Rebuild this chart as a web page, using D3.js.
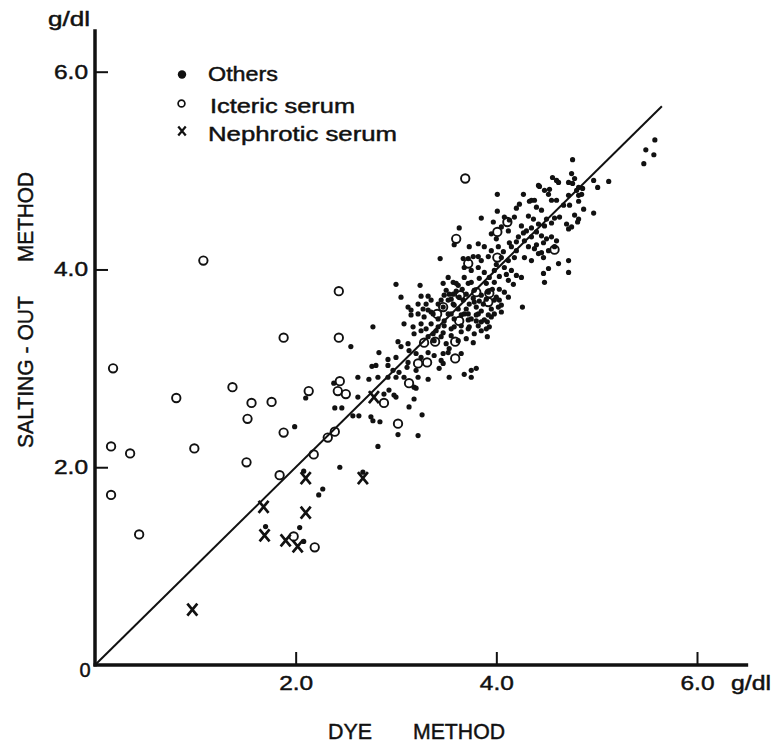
<!DOCTYPE html>
<meta charset="utf-8">
<style>
body { margin: 0; background: #fff; }
text { font-family: "Liberation Sans", Arial, sans-serif; fill: #111; stroke: #111; stroke-width: 0.45px; }
</style>
<body>
<script src="https://d3js.org/d3.v7.min.js"></script>
<script>

// values (g/dl, dye method vs salting-out method)
var xTicks = [2, 4, 6];
var yTicks = [2, 4, 6];
var legendLabels = ["Others", "Icteric serum", "Nephrotic serum"];

var nephrotic = [
  [0.97,0.56],[1.68,1.60],[1.69,1.31],[2.10,1.89],[2.10,1.54],[1.90,1.26],[2.02,1.20],[2.67,1.89],[2.78,2.71]
];

var icteric = [
  [1.08,4.09],[2.43,3.78],[1.88,3.31],[2.43,3.31],[0.18,3.00],[1.37,2.81],[2.44,2.87],[2.42,2.77],[2.50,2.74],
  [2.13,2.77],[0.81,2.70],[1.56,2.65],[1.76,2.66],[1.52,2.49],[1.88,2.35],[2.39,2.36],[2.32,2.30],[0.16,2.21],
  [0.35,2.14],[0.99,2.19],[1.51,2.05],[2.18,2.13],[1.84,1.92],[0.16,1.72],[0.44,1.32],[1.98,1.30],[2.19,1.19],
  [2.88,2.65],[3.02,2.44],[3.13,2.85],[3.22,3.05],[3.31,3.06],[3.28,3.26],[3.39,3.27],[3.59,3.10],[3.59,3.27],
  [3.63,3.48],[3.47,3.62],[3.41,3.55],[3.64,3.74],[3.80,3.77],[3.93,3.76],[3.92,3.67],[3.69,4.92],[3.60,4.31],
  [3.72,4.06],[4.01,4.38],[4.11,4.48],[4.01,4.12],[4.58,4.20]
];

var others = [
  [5.58,5.31],[5.49,5.21],[5.57,5.16],[5.47,5.07],
  [5.12,4.89],[5.01,4.83],[4.97,4.90],[4.97,4.57],[4.76,5.11],
  [4.56,4.93],[4.60,4.90],[4.75,4.97],[4.78,4.92],[4.72,4.88],[4.76,4.87],[4.86,4.82],[4.82,4.83],[4.85,4.76],[4.62,4.88],[4.42,4.85],[4.53,4.81],
  [4.43,4.84],[4.48,4.80],[4.52,4.76],[4.27,4.76],[4.01,4.76],[4.35,4.70],[4.38,4.70],[4.55,4.70],[4.60,4.70],[4.72,4.75],[4.80,4.80],[4.82,4.75],
  [4.23,4.66],[4.33,4.69],[4.20,4.62],[4.40,4.63],[4.45,4.60],[4.67,4.65],[4.73,4.65],[4.87,4.61],[4.82,4.69],[4.01,4.59],[3.85,4.52],
  [4.32,4.54],[4.37,4.51],[4.50,4.51],[4.58,4.52],[4.63,4.53],[4.78,4.55],[4.82,4.51],
  [4.08,4.53],[4.13,4.50],[4.18,4.53],[4.05,4.43],[4.12,4.39],[4.25,4.44],[4.30,4.39],[4.42,4.46],[4.48,4.44],[4.55,4.47],[4.70,4.46],[4.75,4.43],[4.81,4.48],[4.72,4.41],
  [4.22,4.33],[4.28,4.29],[4.35,4.33],[4.45,4.34],[4.50,4.31],[4.55,4.33],[4.60,4.29],
  [4.15,4.23],[4.20,4.19],[4.32,4.23],[4.38,4.21],[4.45,4.17],[4.52,4.19],[4.58,4.23],
  [4.05,4.12],[4.12,4.09],[4.18,4.12],[4.28,4.12],[4.35,4.09],[4.42,4.16],[4.47,4.12],
  [4.62,4.06],[4.72,4.09],[4.47,3.96],[4.52,4.01],[4.72,3.97],[4.08,4.02],[4.15,3.99],[4.20,3.94],[4.25,3.92],[4.48,3.87],[4.12,3.89],[4.17,3.85],[4.12,3.72],
  [4.26,3.62],[4.03,3.69],[3.92,3.54],[3.82,3.55],[3.80,3.48],[3.85,3.47],[3.91,3.47],[3.93,3.42],[3.91,3.32],[3.77,3.26],[3.80,3.00],[3.75,2.98],[3.75,2.91],[3.68,2.94],
  [3.63,4.42],[3.58,4.25],[3.82,4.26],[3.73,4.23],[3.44,4.11],[3.67,4.11],[3.72,4.11],[3.82,4.13],
  [3.97,4.48],[3.95,4.36],[4.00,4.31],[3.88,4.23],[3.95,4.19],[4.02,4.23],[3.77,4.13],[3.85,4.09],[3.92,4.13],
  [3.68,4.02],[3.75,3.99],[3.82,4.02],[3.88,3.97],[3.98,3.99],[3.68,3.92],[3.75,3.87],[3.83,3.91],[3.90,3.86],[3.98,3.87],
  [3.52,3.92],[3.57,3.87],[3.62,3.84],[3.50,3.79],[3.57,3.75],[3.63,3.72],[3.70,3.75],[3.78,3.79],[3.85,3.74],[3.92,3.77],[4.00,3.72],
  [3.35,3.69],[3.42,3.65],[3.47,3.62],[3.73,3.65],[3.80,3.62],[3.87,3.65],[3.95,3.60],[4.02,3.62],
  [3.15,3.59],[3.22,3.55],[3.28,3.52],[3.52,3.55],[3.58,3.50],[3.65,3.54],[3.72,3.49],[3.80,3.54],[3.88,3.49],[3.95,3.52],
  [3.08,3.45],[3.17,3.42],[3.25,3.45],[3.35,3.45],[3.42,3.42],[3.48,3.43],[3.55,3.40],[3.65,3.43],[3.73,3.42],[3.82,3.43],
  [3.00,3.85],[3.05,3.72],[3.24,3.84],[3.25,3.73],[3.32,3.73],[3.47,3.86],[3.60,3.86],[3.72,3.86],[3.30,3.65],[3.35,3.57],[3.57,3.65],
  [3.48,3.74],[3.53,3.75],[3.15,3.54],[3.32,3.59],[3.37,3.55],[3.42,3.50],[3.55,3.55],[3.72,3.55],
  [3.12,3.62],[3.22,3.65],[3.27,3.60],[3.45,3.69],[3.52,3.69],[3.58,3.64],[3.67,3.69],[3.78,3.67],[3.98,3.69],[4.05,3.64],
  [3.68,3.55],[3.75,3.50],[3.98,3.55],[4.05,3.57],[3.58,3.42],[3.65,3.37],[3.72,3.40],[3.78,3.35],[3.85,3.38],
  [3.60,3.78],[3.66,3.80],[3.55,3.70],[3.62,3.60],[3.70,3.60],[3.77,3.71],[3.83,3.68],[3.90,3.70],[3.96,3.80],[4.03,3.80],
  [4.08,3.77],[4.10,3.95],[4.03,3.93],[3.93,3.92],[4.00,4.05],[4.07,4.18],[4.13,4.27],[4.20,4.28],[4.27,4.37],[4.35,4.42],
  [4.40,4.38],[4.47,4.27],[4.40,4.25],[3.70,3.30],[3.62,3.28],[3.55,3.33],[3.48,3.48],[3.40,3.38],[3.30,3.40],[3.85,3.58],
  [3.90,3.40],[3.47,3.15],
  [2.77,3.42],[3.02,3.27],[3.12,3.25],[3.18,3.35],[3.37,3.35],[3.47,3.36],[3.25,3.38],[3.32,3.32],[3.38,3.28],[3.45,3.32],[3.50,3.25],[3.53,3.20],
  [2.55,3.22],[3.05,3.22],[3.13,3.18],[2.83,3.16],[3.00,3.11],[2.92,3.09],[3.52,3.16],[3.65,3.15],[3.32,3.16],[3.25,3.11],[3.20,3.15],[3.38,3.13],[3.45,3.08],
  [2.76,3.02],[3.12,3.06],[3.11,3.01],[3.20,2.98],[3.47,3.05],[2.92,3.03],[2.97,2.98],[2.80,3.03],[3.03,2.96],[3.08,2.91],[3.22,2.91],[3.43,3.00],[3.53,2.91],
  [2.62,2.91],[2.73,2.89],[2.82,2.91],[2.92,2.91],[3.00,2.91],[3.32,2.89],
  [2.93,2.78],[2.88,2.74],[2.98,2.73],[3.18,2.81],[3.20,2.80],[2.38,2.85],[2.10,2.70],
  [2.39,2.60],[2.46,2.60],[2.62,2.71],[3.00,2.71],[3.13,2.61],[3.18,2.69],
  [2.57,2.52],[2.63,2.52],[2.75,2.51],[2.77,2.47],[2.84,2.46],[3.26,2.53],
  [1.99,2.41],[3.02,2.33],[3.22,2.32],[2.82,2.21],[2.44,2.00],[2.08,1.96],[2.67,1.95],
  [2.27,1.78],[2.23,1.72],[1.70,1.40],[2.04,1.39],[2.08,1.25]
];

var lineEnd = 5.65;   // identity line drawn from 0 to here

var width = 775, height = 745;

var x = d3.scaleLinear().domain([0, 6]).range([95, 697]);
var y = d3.scaleLinear().domain([0, 6]).range([665, 71.7]);

var svg = d3.select("body").append("svg")
    .attr("width", width)
    .attr("height", height);

var ink = "#111";
var xMark = "M-5,-6L5,6M5,-6L-5,6";

// axis lines
svg.append("line")
    .attr("x1", x(0) - 1.5).attr("x2", x(6.51))
    .attr("y1", y(0)).attr("y2", y(0))
    .attr("stroke", ink).attr("stroke-width", 3.5);
svg.append("line")
    .attr("x1", x(0)).attr("x2", x(0))
    .attr("y1", y(0) + 1.5).attr("y2", y(6.43))
    .attr("stroke", ink).attr("stroke-width", 3.5);

// ticks point inward
var gx = svg.append("g")
    .attr("transform", "translate(0," + y(0) + ")")
    .call(d3.axisBottom(x).tickValues(xTicks).tickSize(-13).tickPadding(11).tickFormat(d3.format(".1f")));
var gy = svg.append("g")
    .attr("transform", "translate(" + x(0) + ",0)")
    .call(d3.axisLeft(y).tickValues(yTicks).tickSize(-13).tickPadding(7).tickFormat(d3.format(".1f")));

[gx, gy].forEach(function(g) {
  g.attr("font-size", 20).attr("font-family", null);
  g.select(".domain").remove();
  g.selectAll(".tick line").attr("stroke", ink).attr("stroke-width", 2);
  g.selectAll(".tick text").attr("fill", ink)
      .attr("textLength", 34).attr("lengthAdjust", "spacingAndGlyphs");
});

svg.append("text")
    .attr("x", x(0) - 10).attr("y", y(0) + 12)
    .attr("text-anchor", "middle")
    .attr("font-size", 20)
    .text("0");

// unit labels
svg.append("text").attr("x", 731).attr("y", 690).attr("font-size", 20)
    .attr("textLength", 40).attr("lengthAdjust", "spacingAndGlyphs").text("g/dl");
svg.append("text").attr("x", 48).attr("y", 26).attr("font-size", 20)
    .attr("textLength", 42).attr("lengthAdjust", "spacingAndGlyphs").text("g/dl");

// axis titles
svg.append("text").attr("x", 328).attr("y", 739).attr("font-size", 22)
    .attr("textLength", 44).attr("lengthAdjust", "spacingAndGlyphs").text("DYE");
svg.append("text").attr("x", 413).attr("y", 739).attr("font-size", 22)
    .attr("textLength", 92).attr("lengthAdjust", "spacingAndGlyphs").text("METHOD");

var yTitle = svg.append("g").attr("transform", "translate(33,0) rotate(-90)");
yTitle.append("text").attr("x", -448).attr("y", 0).attr("font-size", 22)
    .attr("textLength", 152).attr("lengthAdjust", "spacingAndGlyphs").text("SALTING - OUT");
yTitle.append("text").attr("x", -262).attr("y", 0).attr("font-size", 22)
    .attr("textLength", 90).attr("lengthAdjust", "spacingAndGlyphs").text("METHOD");

// identity line
svg.append("line")
    .attr("x1", x(0)).attr("y1", y(0))
    .attr("x2", x(lineEnd)).attr("y2", y(lineEnd))
    .attr("stroke", ink).attr("stroke-width", 2);

// others: filled dots
svg.append("g").selectAll("circle")
    .data(others)
  .enter().append("circle")
    .attr("cx", function(d) { return x(d[0]); })
    .attr("cy", function(d) { return y(d[1]); })
    .attr("r", 2.6)
    .attr("fill", ink);

// icteric serum: open circles
svg.append("g").selectAll("circle")
    .data(icteric)
  .enter().append("circle")
    .attr("cx", function(d) { return x(d[0]); })
    .attr("cy", function(d) { return y(d[1]); })
    .attr("r", 4.2)
    .attr("fill", "none")
    .attr("stroke", ink)
    .attr("stroke-width", 1.9);

// nephrotic serum: x marks
svg.append("g").selectAll("path")
    .data(nephrotic)
  .enter().append("path")
    .attr("transform", function(d) { return "translate(" + x(d[0]) + "," + y(d[1]) + ")"; })
    .attr("d", xMark)
    .attr("fill", "none")
    .attr("stroke", ink)
    .attr("stroke-width", 2.7);

// legend
var legend = svg.append("g");
legend.append("circle").attr("cx", 182).attr("cy", 74.5).attr("r", 4.2).attr("fill", ink);
legend.append("circle").attr("cx", 181.5).attr("cy", 103.5).attr("r", 3.4)
    .attr("fill", "none").attr("stroke", ink).attr("stroke-width", 1.7);
legend.append("path").attr("transform", "translate(182,131) scale(0.75)")
    .attr("d", xMark).attr("fill", "none").attr("stroke", ink).attr("stroke-width", 3);

var legendX = [208, 210, 208];
var legendY = [80.5, 113, 140.5];
var legendW = [70, 145, 189];
legend.selectAll("text")
    .data(legendLabels)
  .enter().append("text")
    .attr("x", function(d, i) { return legendX[i]; })
    .attr("y", function(d, i) { return legendY[i]; })
    .attr("font-size", 20)
    .attr("textLength", function(d, i) { return legendW[i]; })
    .attr("lengthAdjust", "spacingAndGlyphs")
    .text(function(d) { return d; });

</script>
</body>
